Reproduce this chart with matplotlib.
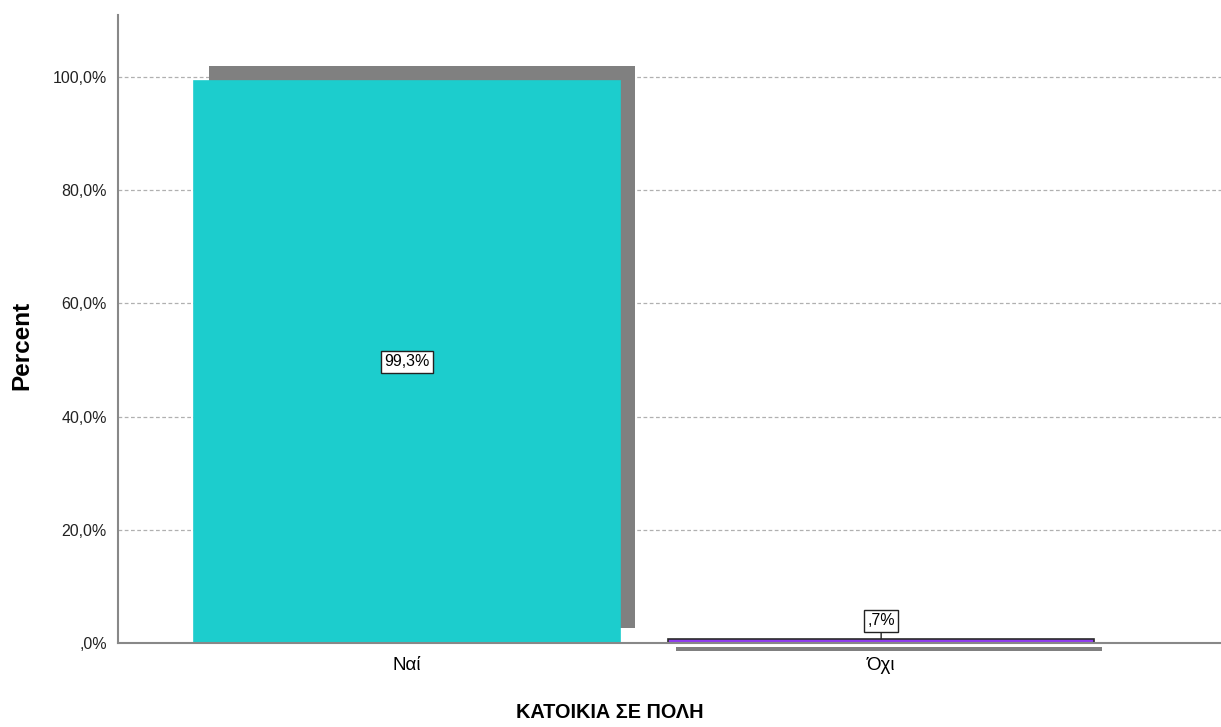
import matplotlib.pyplot as plt
from matplotlib import transforms

categories = ["Ναί", "Όχι"]
percents = [99.3, 0.7]
value_labels = ["99,3%", ",7%"]
yticks = [0, 20, 40, 60, 80, 100]
ytick_labels = [",0%", "20,0%", "40,0%", "60,0%", "80,0%", "100,0%"]

bar_colors = ["#1ccdcd", "#8f3cf0"]
bar_edges = ["#1ccdcd", "#2a2a2a"]
# shadow offsets in pixels (dx, dy), as drawn in the reference
shadow_offsets = [(15, 15), (8, -8)]

plt.rcParams["font.family"] = ["Liberation Sans", "DejaVu Sans"]

fig = plt.figure(figsize=(12.21, 7.27), dpi=100)
ax_left, ax_bottom, ax_w, ax_h = 118, 84, 1103, 628
ax = fig.add_axes([ax_left / 1221, ax_bottom / 727, ax_w / 1221, ax_h / 727])

x = list(range(len(categories)))
width = 0.9

for i, (pos, val) in enumerate(zip(x, percents)):
    dx, dy = shadow_offsets[i]
    shadow_tr = transforms.offset_copy(ax.transData, fig=fig, x=dx, y=dy, units="dots")
    ax.bar(pos, val, width=width, color="#808080", transform=shadow_tr, zorder=2,
           clip_on=False)
    ax.bar(pos, val, width=width, color=bar_colors[i], edgecolor=bar_edges[i],
           linewidth=1.2, zorder=3, clip_on=False)

box = dict(boxstyle="square,pad=0.2", facecolor="white", edgecolor="#222222", linewidth=1.0)
ax.text(x[0], percents[0] / 2, value_labels[0], ha="center", va="center",
        fontsize=11.5, bbox=box, zorder=5)
ax.annotate(value_labels[1], xy=(x[1], percents[1]), xytext=(x[1], 3.9),
            ha="center", va="center", fontsize=11.5, bbox=box, zorder=5,
            arrowprops=dict(arrowstyle="-", color="#222222", linewidth=1.0,
                            shrinkA=0, shrinkB=0))

ax.set_xlim(-0.61, 1.717)
ax.set_ylim(0, 110.95)
ax.set_xticks(x)
ax.set_xticklabels(categories, fontsize=13.5)
ax.set_yticks(yticks)
ax.set_yticklabels(ytick_labels, fontsize=11.5, color="#222222")
ax.tick_params(length=0, pad=8)
ax.tick_params(axis="x", pad=10)

ax.yaxis.grid(True, linestyle=(0, (3, 2)), color="#b0b0b0", linewidth=0.9, zorder=0)
ax.set_axisbelow(True)

for side in ["top", "right"]:
    ax.spines[side].set_visible(False)
for side in ["left", "bottom"]:
    ax.spines[side].set_color("#888888")
    ax.spines[side].set_linewidth(1.5)
ax.spines["bottom"].set_zorder(4)

ax.set_ylabel("Percent", fontsize=17.5, fontweight="bold")
ax.set_xlabel("ΚΑΤΟΙΚΙΑ ΣΕ ΠΟΛΗ", fontsize=14.3, fontweight="bold")
# label centres in pixels, converted to axes coordinates
ax.yaxis.set_label_coords((22 - ax_left) / ax_w, (727 - 345 - ax_bottom) / ax_h)
ax.xaxis.set_label_coords((610 - ax_left) / ax_w, (727 - 713 - ax_bottom) / ax_h)
ax.yaxis.label.set_va("center")
ax.xaxis.label.set_va("center")

fig.savefig("out.png", dpi=100)
